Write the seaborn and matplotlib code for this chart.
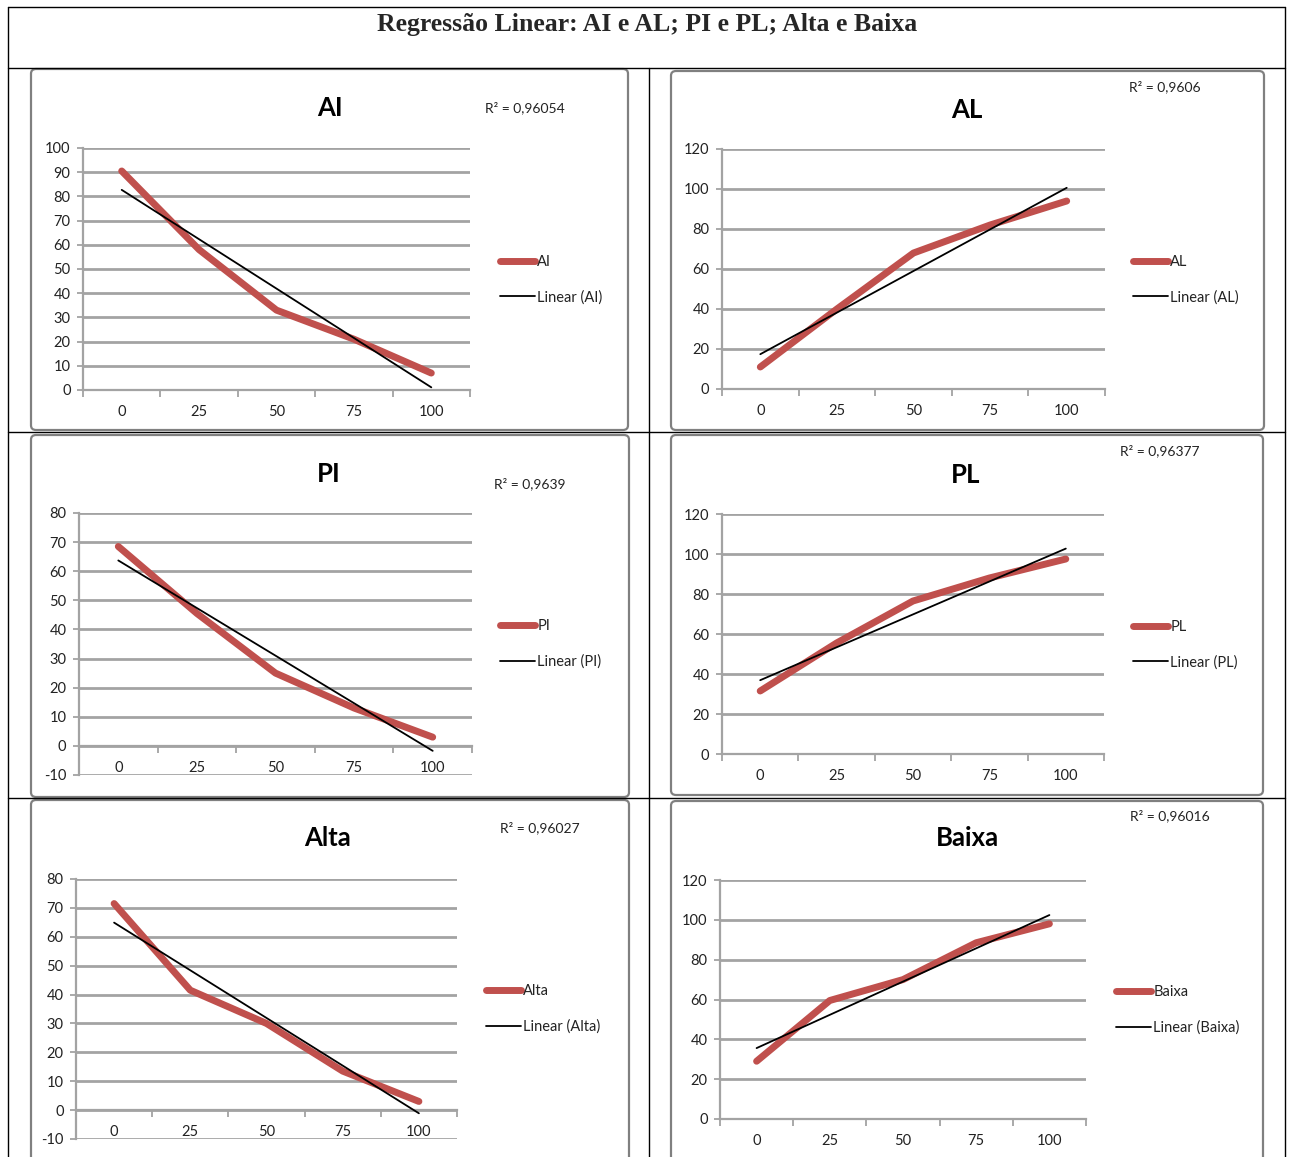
import numpy as np
import pandas as pd
import matplotlib
matplotlib.use("Agg")
import matplotlib.pyplot as plt
import seaborn as sns
from matplotlib.lines import Line2D
from matplotlib.patches import FancyBboxPatch

# ---------------- data ----------------
x_categories = [0, 25, 50, 75, 100]
x_labels = ["0", "25", "50", "75", "100"]

ai_values = [90.5, 58, 33, 21, 7]
al_values = [11, 40, 68, 82, 94]
pi_values = [68.5, 45.5, 25, 13, 3]
pl_values = [31.5, 55.5, 76.5, 88, 97.5]
alta_values = [71.5, 41.5, 30, 13.5, 3]
baixa_values = [29, 59.5, 70, 88.5, 98]

chart_titles = ["AI", "AL", "PI", "PL", "Alta", "Baixa"]
r2_labels = ["R² = 0,96054", "R² = 0,9606", "R² = 0,9639",
             "R² = 0,96377", "R² = 0,96027", "R² = 0,96016"]
y_ticks_ai = list(range(0, 101, 10))
y_ticks_pos = list(range(0, 121, 20))
y_ticks_neg = list(range(-10, 81, 10))
main_title = "Regressão Linear: AI e AL; PI e PL; Alta e Baixa"

series_list = [ai_values, al_values, pi_values, pl_values, alta_values, baixa_values]
yticks_list = [y_ticks_ai, y_ticks_pos, y_ticks_neg, y_ticks_pos, y_ticks_neg, y_ticks_pos]

# ---------------- layout (pixels) ----------------
W, H = 1290, 1157
axes_px = [(83, 470, 148, 390), (722, 1105, 149, 389),
           (79, 472, 513, 775), (722, 1104, 514, 754),
           (76, 457, 879, 1139), (720, 1086, 880, 1119)]
title_px = [(330, 108), (967, 110), (329, 474), (966, 475), (328, 838), (967, 838)]
r2_px = [(525, 108), (1165, 87), (530, 484), (1160, 451), (540, 828), (1170, 816)]
legend_px = [(500, 262, 297), (1133, 263, 296), (500, 627, 661),
             (1133, 628, 661), (486, 992, 1026), (1116, 993, 1027)]
box_px = [(31, 69, 628, 430), (671, 71, 1264, 430), (31, 435, 629, 797),
          (671, 435, 1263, 795), (31, 800, 629, 1162), (671, 801, 1263, 1162)]

sns.set_theme(style="white")
plt.rcParams['font.family'] = ['Lato', 'DejaVu Sans']

RED = '#c0504d'
GRID = '#a3a3a3'

fig = plt.figure(figsize=(W / 100, H / 100), dpi=100)
fig.patch.set_facecolor('white')


def fx(x):
    return x / W


def fy(y):
    return 1 - y / H


def hline(y, x0, x1):
    fig.add_artist(Line2D([fx(x0), fx(x1)], [fy(y), fy(y)], color='black', lw=1.0))


def vline(x, y0, y1):
    fig.add_artist(Line2D([fx(x), fx(x)], [fy(y0), fy(y1)], color='black', lw=1.0))


hline(7, 8, 1285)
hline(68, 8, 1285)
hline(432, 8, 1285)
hline(798, 8, 1285)
vline(8, 7, 1157)
vline(1285, 7, 1157)
vline(649, 68, 1157)

fig.text(fx(647), fy(25), main_title, ha='center', va='center',
         fontsize=18.5, fontweight='bold', family=['Liberation Serif', 'DejaVu Serif'])

for i in range(6):
    bx0, by0, bx1, by1 = box_px[i]
    fig.add_artist(FancyBboxPatch((fx(bx0), fy(by1)), fx(bx1 - bx0), (by1 - by0) / H,
                                  boxstyle="round,pad=0,rounding_size=0.004",
                                  transform=fig.transFigure, fc='white',
                                  ec='#808080', lw=1.6, zorder=0))

    x0, x1, yt, yb = axes_px[i]
    ax = fig.add_axes([fx(x0), fy(yb), fx(x1 - x0), (yb - yt) / H])
    ax.set_facecolor('none')
    ticks = yticks_list[i]
    vals = series_list[i]

    sns.lineplot(x=x_categories, y=vals, color=RED, lw=5, ax=ax,
                 solid_capstyle='round', zorder=3)
    sns.regplot(x=x_categories, y=vals, scatter=False, ci=None, truncate=True,
                color='black', line_kws={'lw': 1.3, 'zorder': 4}, ax=ax)

    ax.set_xlim(-12.5, 112.5)
    ax.set_ylim(ticks[0], ticks[-1])
    ax.set_yticks(ticks)
    ax.set_yticklabels([str(t) for t in ticks])
    ax.set_xticks(x_categories)
    ax.set_xticklabels(x_labels)
    ax.set_xticks(np.arange(-12.5, 113, 25), minor=True)
    ax.set_xlabel('')
    ax.set_ylabel('')

    ax.yaxis.grid(True, color=GRID, lw=2.0, zorder=1)
    ax.xaxis.grid(False)
    ax.set_axisbelow(True)
    for s in ['top', 'right']:
        ax.spines[s].set_visible(False)
    for s in ['left', 'bottom']:
        ax.spines[s].set_visible(True)
        ax.spines[s].set_color(GRID)
        ax.spines[s].set_linewidth(1.6)
    if ticks[0] < 0:
        ax.spines['bottom'].set_position(('data', 0))

    ax.tick_params(axis='y', which='major', left=True, length=4, width=1.3,
                   color=GRID, direction='out', pad=5, labelsize=10.5, labelcolor='#222222')
    ax.tick_params(axis='x', which='major', bottom=True, length=0, pad=11,
                   labelsize=10.5, labelcolor='#222222')
    ax.tick_params(axis='x', which='minor', bottom=True, length=5, width=1.3,
                   color=GRID, direction='out')

    tx, ty = title_px[i]
    fig.text(fx(tx), fy(ty), chart_titles[i], ha='center', va='center',
             fontsize=18.5, fontweight='bold', color='black')
    rx, ry = r2_px[i]
    fig.text(fx(rx), fy(ry), r2_labels[i], ha='center', va='center',
             fontsize=10, color='#222222')

    lx, ly1, ly2 = legend_px[i]
    handles = [Line2D([0], [0], color=RED, lw=5, solid_capstyle='round'),
               Line2D([0], [0], color='black', lw=1.3)]
    labels = [chart_titles[i], f"Linear ({chart_titles[i]})"]
    ax.legend(handles, labels, loc='center left',
              bbox_to_anchor=(fx(lx), fy((ly1 + ly2) / 2)),
              bbox_transform=fig.transFigure, frameon=False, fontsize=10.5,
              handlelength=2.4, handletextpad=0.15, borderpad=0, borderaxespad=0,
              labelspacing=1.45, labelcolor='#222222')

fig.savefig("out.png", dpi=100, facecolor='white')
